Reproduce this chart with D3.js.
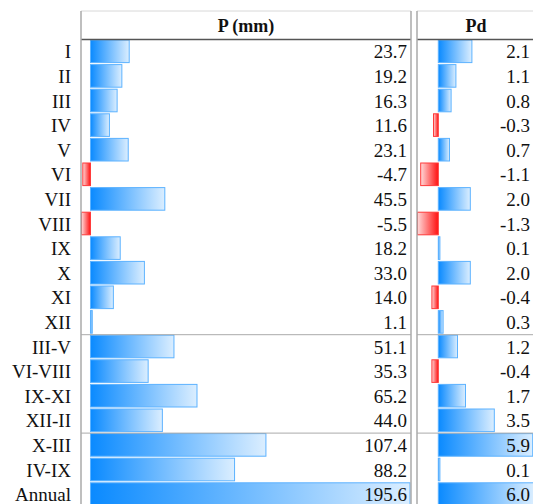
<!DOCTYPE html>
<html>
<head>
<meta charset="utf-8">
<script src="https://cdn.jsdelivr.net/npm/d3@7"></script>
<style>
  body { margin: 0; background: #fff; }
  text { font-family: 'Liberation Serif', 'DejaVu Serif', serif; fill: #111; }
</style>
</head>
<body>
<div id="viz"></div>
<script>
const categories = ['I', 'II', 'III', 'IV', 'V', 'VI', 'VII', 'VIII', 'IX', 'X', 'XI', 'XII',
  'III-V', 'VI-VIII', 'IX-XI', 'XII-II', 'X-III', 'IV-IX', 'Annual'];
const pValues = [23.7, 19.2, 16.3, 11.6, 23.1, -4.7, 45.5, -5.5, 18.2, 33.0, 14.0, 1.1,
  51.1, 35.3, 65.2, 44.0, 107.4, 88.2, 195.6];
const pdValues = [2.1, 1.1, 0.8, -0.3, 0.7, -1.1, 2.0, -1.3, 0.1, 2.0, -0.4, 0.3,
  1.2, -0.4, 1.7, 3.5, 5.9, 0.1, 6.0];
const columnTitles = ['P (mm)', 'Pd'];
// rows after which a group separator is drawn
const groupEnds = ['XII', 'XII-II'];

const width = 533, height = 504;
const headerTop = 11, headerBottom = 39.5, rowH = 24.6;

const svg = d3.select('#viz').append('svg')
  .attr('width', width)
  .attr('height', height);

const defs = svg.append('defs');
const pos = defs.append('linearGradient').attr('id', 'gradPos');
pos.append('stop').attr('offset', '0%').attr('stop-color', '#0a8aff');
pos.append('stop').attr('offset', '100%').attr('stop-color', '#dbeeff');
const neg = defs.append('linearGradient').attr('id', 'gradNeg');
neg.append('stop').attr('offset', '0%').attr('stop-color', '#ffd9d9');
neg.append('stop').attr('offset', '100%').attr('stop-color', '#ff1010');

const yScale = d3.scaleBand()
  .domain(categories)
  .range([headerBottom, headerBottom + rowH * categories.length])
  .padding(0);

const cols = [
  { title: columnTitles[0], values: pValues, left: 81, right: 411, x0: 81.5, x1: 410, textX: 407 },
  { title: columnTitles[1], values: pdValues, left: 417, right: 535, x0: 417.5, x1: 534.3, textX: 530 }
];

cols.forEach((c) => {
  c.scale = d3.scaleLinear()
    .domain([d3.min(c.values), d3.max(c.values)])
    .range([c.x0, c.x1]);

  const g = svg.append('g');

  // bars
  g.selectAll('rect.bar')
    .data(c.values)
    .enter()
    .append('rect')
      .attr('class', 'bar')
      .attr('x', (d) => Math.min(c.scale(0), c.scale(d)))
      .attr('y', (d, i) => yScale(categories[i]) + 0.5)
      .attr('width', (d) => Math.abs(c.scale(d) - c.scale(0)))
      .attr('height', yScale.bandwidth() - 2)
      .attr('fill', (d) => d < 0 ? 'url(#gradNeg)' : 'url(#gradPos)')
      .attr('stroke', (d) => d < 0 ? '#ff3a3a' : '#5cb2ff')
      .attr('stroke-width', 1);

  // values
  g.selectAll('text.val')
    .data(c.values)
    .enter()
    .append('text')
      .attr('class', 'val')
      .attr('x', c.textX)
      .attr('y', (d, i) => yScale(categories[i]) + rowH / 2 + 6.5)
      .attr('text-anchor', 'end')
      .attr('font-size', '19px')
      .text((d) => d.toFixed(1));

  // header
  g.append('text')
    .attr('x', (c.left + c.right) / 2)
    .attr('y', headerTop + 21)
    .attr('text-anchor', 'middle')
    .attr('font-size', '18px')
    .attr('font-weight', 'bold')
    .text(c.title);

  // borders
  g.append('line')
    .attr('x1', c.left).attr('x2', c.right)
    .attr('y1', headerTop).attr('y2', headerTop)
    .attr('stroke', '#d8d8d8');
  g.append('line')
    .attr('x1', c.left).attr('x2', c.right)
    .attr('y1', headerBottom).attr('y2', headerBottom)
    .attr('stroke', '#555').attr('stroke-width', 1.5);
  [c.left, c.right].forEach((x) => {
    g.append('line')
      .attr('x1', x).attr('x2', x)
      .attr('y1', headerTop).attr('y2', height)
      .attr('stroke', '#aaa').attr('stroke-width', 1.5);
  });
  groupEnds.forEach((cat) => {
    const yy = yScale(cat) + rowH;
    g.append('line')
      .attr('x1', c.left).attr('x2', c.right)
      .attr('y1', yy).attr('y2', yy)
      .attr('stroke', '#aaa');
  });
});

// row labels
svg.append('g')
  .selectAll('text')
  .data(categories)
  .enter()
  .append('text')
    .attr('x', 71)
    .attr('y', (d) => yScale(d) + rowH / 2 + 6.5)
    .attr('text-anchor', 'end')
    .attr('font-size', '19px')
    .text((d) => d);
</script>
</body>
</html>
